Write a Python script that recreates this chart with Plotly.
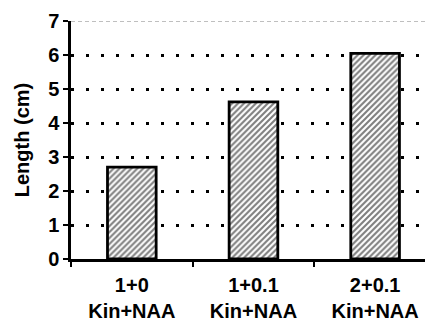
import plotly.graph_objects as go

categories = ["1+0<br>Kin+NAA", "1+0.1<br>Kin+NAA", "2+0.1<br>Kin+NAA"]
lengths = [2.7, 4.62, 6.05]
y_ticks = [0, 1, 2, 3, 4, 5, 6, 7]

FONT = "Liberation Sans, Arial, sans-serif"

fig = go.Figure()
fig.add_trace(go.Bar(
    x=categories, y=lengths, width=0.4,
    marker=dict(color="white", line=dict(color="black", width=2.8),
                pattern=dict(shape="/", size=4.2, solidity=0.5,
                             fgcolor="black", bgcolor="white")),
))

fig.add_shape(type="line", xref="paper", yref="y", x0=0, x1=1, y0=7, y1=7,
              line=dict(color="#aaaaaa", width=1.5, dash="4px,3px"), layer="below")

fig.update_layout(
    width=425, height=325,
    margin=dict(l=71, r=0, t=21, b=66, autoexpand=False),
    paper_bgcolor="white", plot_bgcolor="white",
    showlegend=False,
    font=dict(family=FONT, color="black"),
)
fig.update_xaxes(
    type="category", range=[-0.5, 2.41], automargin=False,
    showline=True, linecolor="black", linewidth=2.5,
    ticks="outside", tickson="boundaries", ticklen=5, tickwidth=1.5, tickcolor="black",
    showgrid=False, ticklabelstandoff=6,
    tickfont=dict(family=FONT, size=20, color="black", weight="bold"),
)
fig.update_yaxes(
    range=[0, 7], tickvals=y_ticks, automargin=False,
    showline=True, linecolor="black", linewidth=2.5,
    ticks="outside", ticklen=5, tickwidth=1.5, tickcolor="black",
    showgrid=True, gridcolor="black", gridwidth=3, griddash="3px,12px",
    zeroline=False,
    tickfont=dict(family=FONT, size=20, color="black", weight="bold"),
    title=dict(text="Length (cm)", font=dict(family=FONT, size=20, color="black", weight="bold"),
               standoff=14),
)

fig.write_html("out.html", config={"displayModeBar": False},
               post_script="document.body.style.margin='0';document.body.style.overflow='hidden';")
